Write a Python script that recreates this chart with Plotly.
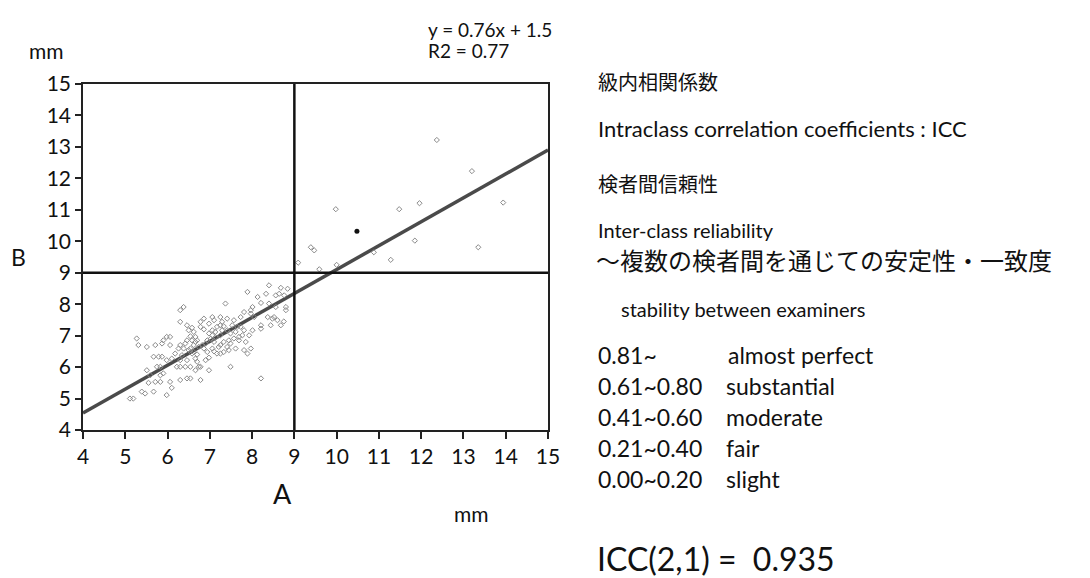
import plotly.graph_objects as go

# ---------------- data ----------------
# cluster of measurements (A, B) in mm
a_vals = [8.40, 8.68, 8.84, 8.64, 8.33, 8.13, 7.89, 8.56, 8.76, 8.80, 8.80, 8.56, 8.40, 8.21, 8.01,
          7.97, 7.97, 8.05, 7.81, 7.73, 8.21, 8.21, 8.48, 8.60, 8.68, 8.44, 7.37, 7.57, 7.53, 7.65,
          7.81, 7.77, 7.85, 7.97, 7.61, 7.57, 7.61, 7.49, 7.41, 7.33, 7.25, 7.41, 7.25, 7.17, 7.10,
          7.06, 6.98, 6.94, 7.10, 7.21, 7.25, 7.17, 7.06, 6.94, 6.86, 6.82, 6.74, 6.66, 6.70, 6.62,
          6.46, 6.50, 6.54, 6.58, 6.42, 6.38, 6.54, 6.58, 6.66, 6.70, 6.74, 6.66, 6.54, 6.42, 6.30,
          6.22, 6.30, 6.34, 6.30, 6.26, 6.18, 6.10, 6.06, 6.06, 5.98, 5.90, 5.87, 5.71, 5.51, 5.31,
          5.27, 5.67, 5.79, 5.87, 5.98, 5.83, 5.90, 5.83, 5.71, 5.55, 5.47, 5.39, 5.67, 5.98, 6.10,
          6.06, 6.30, 6.46, 6.54, 6.78, 6.30, 6.38, 6.30, 6.78, 6.78, 6.86, 6.98, 7.06, 7.25, 7.29,
          7.41, 7.49, 8.21, 6.78, 6.90, 6.98, 5.11, 5.19, 7.89, 7.81, 7.69, 7.73, 7.93, 8.01, 8.37,
          8.52, 5.51, 5.59, 5.75, 5.83, 6.46, 6.50, 6.62, 6.66, 7.06, 7.13, 7.29, 7.49, 7.69, 7.45,
          7.33, 7.25, 8.75, 6.62, 6.90, 7.02, 7.14, 6.70, 6.98, 7.10, 6.58, 6.86, 7.33, 7.45, 6.46,
          9.39, 9.47, 9.59, 10.00, 9.09, 9.98, 11.48, 11.96, 13.94, 11.85, 13.35, 10.88, 11.28,
          12.37, 13.20]
b_vals = [8.60, 8.52, 8.49, 8.33, 8.33, 8.23, 8.39, 8.28, 8.28, 7.91, 7.81, 7.91, 8.02, 8.04, 7.91,
          7.81, 7.70, 7.59, 7.75, 7.59, 7.33, 7.22, 7.54, 7.49, 7.33, 7.33, 8.02, 7.49, 7.33, 7.28,
          7.17, 7.01, 6.80, 6.59, 7.12, 6.91, 6.59, 6.75, 6.64, 6.80, 7.01, 7.17, 7.33, 7.28, 7.49,
          7.01, 7.07, 6.85, 6.80, 6.64, 6.43, 6.43, 6.59, 6.48, 6.59, 6.70, 6.64, 6.80, 6.85, 7.12,
          7.33, 7.17, 6.98, 6.85, 6.75, 6.59, 6.59, 6.43, 6.27, 6.17, 6.01, 5.90, 6.01, 6.01, 6.01,
          6.01, 6.22, 6.38, 6.70, 6.59, 6.43, 6.27, 6.70, 6.96, 6.96, 6.85, 6.75, 6.70, 6.64, 6.70,
          6.91, 6.33, 6.33, 6.33, 6.22, 5.74, 5.80, 5.53, 5.53, 5.50, 5.16, 5.22, 5.22, 5.11, 5.34,
          5.53, 5.59, 5.64, 5.64, 5.59, 7.81, 7.91, 7.44, 7.44, 7.28, 7.54, 7.38, 7.59, 7.59, 7.44,
          7.54, 6.01, 5.64, 6.01, 6.22, 5.90, 5.00, 5.00, 6.43, 6.54, 6.85, 7.28, 7.01, 7.17, 7.59,
          7.59, 5.90, 5.74, 6.01, 6.01, 6.22, 6.54, 6.48, 6.96, 7.17, 7.12, 7.17, 7.07, 6.96, 6.54,
          6.48, 6.70, 7.45, 6.70, 6.75, 6.90, 6.95, 6.40, 6.30, 6.50, 7.25, 7.20, 7.30, 6.85, 6.85,
          9.81, 9.71, 9.11, 9.25, 9.32, 11.02, 11.02, 11.21, 11.23, 10.02, 9.81, 9.65, 9.41,
          13.22, 12.23]
highlight_a = [10.48]
highlight_b = [10.32]

slope, intercept = 0.76, 1.5
threshold = 9
x_range = [4, 15]
y_range = [4, 15]
tick_vals = list(range(4, 16))

equation_text = "y = 0.76x + 1.5"
r2_text = "R2 = 0.77"
icc_ranges = ["0.81~", "0.61~0.80", "0.41~0.60", "0.21~0.40", "0.00~0.20"]
icc_labels = ["almost perfect", "substantial", "moderate", "fair", "slight"]
icc_result = "ICC(2,1) =  0.935"

# ---------------- layout geometry (screen pixels) ----------------
OFF = 8                      # page body margin
L_ABS, T_ABS, PW, PH = 83, 84, 465, 346
W, H = 1090 - OFF, 578 - OFF
L, T = L_ABS - OFF, T_ABS - OFF


def px(x):
    return (x - L_ABS) / PW


def py(y):
    return (T_ABS + PH - y) / PH


LAT = "Lato, 'Noto Sans', sans-serif"
JP = "'Noto Sans CJK JP', sans-serif"

fig = go.Figure()

fig.add_trace(go.Scatter(
    x=x_range, y=[slope * v + intercept for v in x_range], mode="lines",
    line=dict(color="#4a4a4a", width=3.5), hoverinfo="skip", showlegend=False))

fig.add_trace(go.Scatter(
    x=a_vals, y=b_vals, mode="markers",
    marker=dict(symbol="diamond-open", size=4, color="#8a8a8a",
                line=dict(width=1, color="#8a8a8a")),
    showlegend=False))

fig.add_trace(go.Scatter(
    x=highlight_a, y=highlight_b, mode="markers",
    marker=dict(symbol="circle", size=5, color="#111"), showlegend=False))

fig.add_vline(x=threshold, line=dict(color="#111", width=2.5))
fig.add_hline(y=threshold, line=dict(color="#111", width=2.5))

axis_common = dict(
    showgrid=False, zeroline=False, showline=True, linecolor="#222", linewidth=1.5,
    mirror=True, ticks="outside", tickcolor="#222", tickwidth=1.5,
    tickfont=dict(family=LAT, size=21, color="#111"), tickvals=tick_vals,
)
fig.update_xaxes(range=x_range, ticklen=7, **axis_common)
fig.update_yaxes(range=y_range, ticklen=6, **axis_common)

ann = []


def add(text, x, y, size, family=LAT, xanchor="left", yanchor="middle"):
    ann.append(dict(text=text, x=px(x), y=py(y), xref="paper", yref="paper",
                    showarrow=False, xanchor=xanchor, yanchor=yanchor,
                    font=dict(family=family, size=size, color="#111")))


add(equation_text, 426, 29, 19)
add(r2_text, 426, 51, 19)
add("mm", 27, 51, 21)
add("B", 9, 257, 23)
add("A", 282, 493, 27, xanchor="center")
add("mm", 452, 513, 21)

add("級内相関係数", 596, 82, 20, family=JP)
add("Intraclass correlation coefficients : ICC", 596, 128, 22)
add("検者間信頼性", 596, 183, 20, family=JP)
add("Inter-class reliability", 596, 230, 20)
add("～複数の検者間を通じての安定性・一致度", 594, 259, 24, family=JP)
add("stability between examiners", 619, 309, 20)

row_y = [355, 386, 417, 448, 479]
for r, yy in zip(icc_ranges, row_y):
    add(r, 596, yy, 23)
add(icc_labels[0], 726, row_y[0], 23)
for lab, yy in zip(icc_labels[1:], row_y[1:]):
    add(lab, 724, yy, 23)

add(icc_result, 595, 558, 32)

fig.update_layout(
    width=W, height=H,
    margin=dict(l=L, r=W - L - PW, t=T, b=H - T - PH),
    plot_bgcolor="white", paper_bgcolor="white",
    annotations=ann, showlegend=False,
)

fig.write_html("out.html")
